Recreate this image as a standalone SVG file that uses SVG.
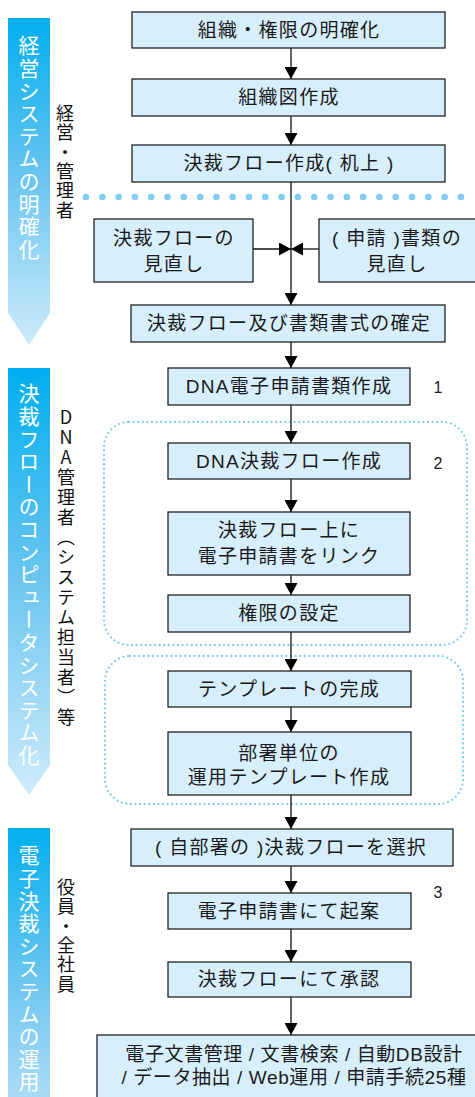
<svg xmlns="http://www.w3.org/2000/svg" width="475" height="1097" viewBox="0 0 475 1097">
<style>
.box{fill:#d7effc;stroke:#222;stroke-width:1.3}
.t{font-family:"Liberation Sans","Noto Sans CJK JP",sans-serif;font-size:19px;letter-spacing:1.3px;fill:#1a1a1a;text-anchor:middle}
.num{font-family:"Liberation Sans",sans-serif;font-size:16px;fill:#1a1a1a;text-anchor:middle}
.vw{font-family:"Noto Sans CJK JP",sans-serif;font-size:21px;letter-spacing:1.6px;fill:#fff;writing-mode:vertical-rl}
.vb{font-family:"Noto Sans CJK JP",sans-serif;font-size:18px;letter-spacing:1.4px;fill:#111;writing-mode:vertical-rl}
.ln{stroke:#111;stroke-width:1.3;fill:none}
.dotl{stroke:#7fcdf0;fill:none;stroke-linecap:round}
</style>
<defs>
<linearGradient id="g1" x1="0" y1="0" x2="0" y2="1">
<stop offset="0" stop-color="#00aeef"/>
<stop offset="0.5" stop-color="#6cc6f0"/>
<stop offset="1" stop-color="#cdebfa"/>
</linearGradient>
<linearGradient id="g3" x1="0" y1="0" x2="0" y2="1">
<stop offset="0" stop-color="#00aeef"/>
<stop offset="0.6" stop-color="#72c8f0"/>
<stop offset="1" stop-color="#a9dbf5"/>
</linearGradient>
<marker id="ah" markerUnits="userSpaceOnUse" markerWidth="13" markerHeight="13" refX="12" refY="6.5" orient="auto">
<path d="M0,0 L12,6.5 L0,13 Z" fill="#000"/>
</marker>
</defs>

<g id="phase1">
<polygon points="8,18 50,18 50,313 29,345 8,313" fill="url(#g1)"/>
<text class="vw" x="29" y="35">経営システムの明確化</text>
</g>
<g id="phase2">
<polygon points="8,368 50,368 50,765 29,795 8,765" fill="url(#g1)"/>
<text class="vw" x="29" y="383">決裁フローのコンピュータシステム化</text>
</g>
<g id="phase3">
<polygon points="8,828 50,828 50,1097 8,1097" fill="url(#g3)"/>
<text class="vw" x="29" y="845">電子決裁システムの運用</text>
</g>

<g id="role1"><text class="vb" x="65" y="104">経営・管理者</text></g>
<g id="role2"><text class="vb" x="66" y="408" style="text-orientation:upright;letter-spacing:2px">DNA管理者（システム担当者）等</text></g>
<g id="role3"><text class="vb" x="66" y="878">役員・全社員</text></g>

<g id="separators">
<line class="dotl" x1="86" y1="197" x2="475" y2="197" stroke-width="6.6" stroke-dasharray="0 16.3"/>
<rect class="dotl" x="104" y="422" width="363" height="223" rx="25" stroke-width="2.3" stroke-dasharray="0 4.6"/>
<rect class="dotl" x="105" y="656" width="358" height="148" rx="25" stroke-width="2.3" stroke-dasharray="0 4.6"/>
</g>

<g id="connectors">
<line class="ln" x1="291" y1="48" x2="291" y2="79" marker-end="url(#ah)"/>
<line class="ln" x1="291" y1="116" x2="291" y2="145" marker-end="url(#ah)"/>
<line class="ln" x1="291" y1="182" x2="291" y2="305" marker-end="url(#ah)"/>
<line class="ln" x1="253" y1="249" x2="291" y2="249" marker-end="url(#ah)"/>
<line class="ln" x1="319" y1="249" x2="291" y2="249" marker-end="url(#ah)"/>
<line class="ln" x1="291" y1="342" x2="291" y2="368" marker-end="url(#ah)"/>
<line class="ln" x1="291" y1="405" x2="291" y2="443" marker-end="url(#ah)"/>
<line class="ln" x1="291" y1="479" x2="291" y2="512" marker-end="url(#ah)"/>
<line class="ln" x1="291" y1="575" x2="291" y2="595" marker-end="url(#ah)"/>
<line class="ln" x1="291" y1="632" x2="291" y2="671" marker-end="url(#ah)"/>
<line class="ln" x1="291" y1="707" x2="291" y2="732" marker-end="url(#ah)"/>
<line class="ln" x1="291" y1="795" x2="291" y2="829" marker-end="url(#ah)"/>
<line class="ln" x1="291" y1="866" x2="291" y2="893" marker-end="url(#ah)"/>
<line class="ln" x1="291" y1="929" x2="291" y2="962" marker-end="url(#ah)"/>
<line class="ln" x1="291" y1="997" x2="291" y2="1035" marker-end="url(#ah)"/>
</g>

<g id="n1"><rect class="box" x="132" y="12" width="313" height="36"/><text class="t" x="289" y="37">組織・権限の明確化</text></g>
<g id="n2"><rect class="box" x="132" y="79" width="313" height="37"/><text class="t" x="289" y="104">組織図作成</text></g>
<g id="n3"><rect class="box" x="132" y="145" width="313" height="37"/><text class="t" x="289" y="170">決裁フロー作成( 机上 )</text></g>
<g id="n4"><rect class="box" x="94" y="219" width="159" height="63"/><text class="t" x="174" y="245">決裁フローの</text><text class="t" x="174" y="271">見直し</text></g>
<g id="n5"><rect class="box" x="319" y="219" width="160" height="63"/><text class="t" x="397" y="245">( 申請 )書類の</text><text class="t" x="397" y="271">見直し</text></g>
<g id="n6"><rect class="box" x="131" y="305" width="314" height="37"/><text class="t" x="289" y="330">決裁フロー及び書類書式の確定</text></g>
<g id="n7"><rect class="box" x="168" y="368" width="242" height="37"/><text class="t" x="289" y="393">DNA電子申請書類作成</text></g>
<g id="n8"><rect class="box" x="168" y="443" width="242" height="36"/><text class="t" x="289" y="468">DNA決裁フロー作成</text></g>
<g id="n9"><rect class="box" x="168" y="512" width="242" height="63"/><text class="t" x="289" y="537">決裁フロー上に</text><text class="t" x="289" y="563">電子申請書をリンク</text></g>
<g id="n10"><rect class="box" x="168" y="595" width="242" height="37"/><text class="t" x="289" y="620">権限の設定</text></g>
<g id="n11"><rect class="box" x="168" y="671" width="243" height="36"/><text class="t" x="289" y="696">テンプレートの完成</text></g>
<g id="n12"><rect class="box" x="168" y="732" width="243" height="63"/><text class="t" x="289" y="760">部署単位の</text><text class="t" x="289" y="784">運用テンプレート作成</text></g>
<g id="n13"><rect class="box" x="131" y="829" width="322" height="37"/><text class="t" x="291" y="854">( 自部署の )決裁フローを選択</text></g>
<g id="n14"><rect class="box" x="168" y="893" width="243" height="36"/><text class="t" x="289" y="918">電子申請書にて起案</text></g>
<g id="n15"><rect class="box" x="168" y="962" width="243" height="35"/><text class="t" x="289" y="986">決裁フローにて承認</text></g>
<g id="n16"><rect class="box" x="97" y="1035" width="395" height="70"/><text class="t" x="294" y="1061" style="letter-spacing:0.6px">電子文書管理 / 文書検索 / 自動DB設計</text><text class="t" x="294" y="1084" style="letter-spacing:0.6px">/ データ抽出 / Web運用 / 申請手続25種</text></g>

<g id="labels">
<text class="num" x="438" y="393">1</text>
<text class="num" x="438" y="469">2</text>
<text class="num" x="438" y="898">3</text>
</g>
</svg>
